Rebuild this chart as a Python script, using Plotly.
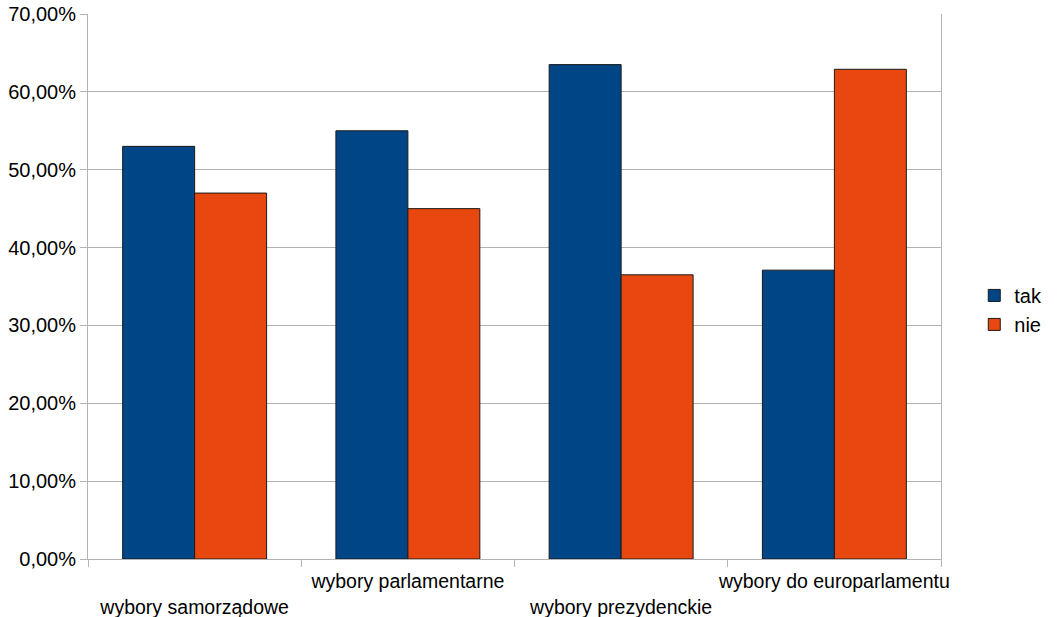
import plotly.graph_objects as go

categories = ["wybory samorządowe", "wybory parlamentarne", "wybory prezydenckie", "wybory do europarlamentu"]
tak = [53.0, 55.0, 63.5, 37.1]
nie = [47.0, 45.0, 36.5, 62.9]
series_names = ["tak", "nie"]
y_ticks = [0, 10, 20, 30, 40, 50, 60, 70]
y_tick_labels = ["0,00%", "10,00%", "20,00%", "30,00%", "40,00%", "50,00%", "60,00%", "70,00%"]

# staggered category labels (even-indexed ones pushed down a line)
tick_text = [("<br>" + c) if i % 2 == 0 else c for i, c in enumerate(categories)]

FONT = "Liberation Sans, Arial, sans-serif"
GRID = "#b3b3b3"

fig = go.Figure()
fig.add_trace(go.Bar(x=categories, y=tak, name=series_names[0],
                     marker=dict(color="#004586", line=dict(color="#1a1a1a", width=1))))
fig.add_trace(go.Bar(x=categories, y=nie, name=series_names[1],
                     marker=dict(color="#e8470f", line=dict(color="#1a1a1a", width=1))))

fig.update_layout(
    width=1059, height=617,
    margin=dict(l=88, r=118, t=14, b=58, autoexpand=False),
    paper_bgcolor="white", plot_bgcolor="white",
    barmode="group", bargap=0.325, bargroupgap=0,
    font=dict(family=FONT, size=19, color="#000000"),
    legend=dict(x=1.039, y=0.457, xanchor="left", yanchor="middle",
                font=dict(size=20), tracegroupgap=0, itemwidth=30),
)
fig.update_xaxes(
    type="category", tickson="boundaries", ticks="outside", ticklen=7,
    tickcolor=GRID, tickwidth=1, tickangle=0, automargin=False,
    tickvals=categories, ticktext=tick_text, ticklabelstandoff=5,
    showline=True, linecolor=GRID, linewidth=1, showgrid=False,
    tickfont=dict(size=19.5),
)
fig.update_yaxes(
    range=[0, 70], tickvals=y_ticks, ticktext=y_tick_labels, automargin=False,
    ticks="outside", ticklen=7, tickcolor=GRID, ticklabeloverflow="allow",
    showgrid=True, gridcolor=GRID, gridwidth=1,
    showline=True, linecolor=GRID, linewidth=1, mirror=True,
    zeroline=False, tickfont=dict(size=20),
)

# remove the default page margin so the figure fills the window exactly
fig.write_html("out.html", config={"displayModeBar": False},
               post_script="document.body.style.margin='0';")
